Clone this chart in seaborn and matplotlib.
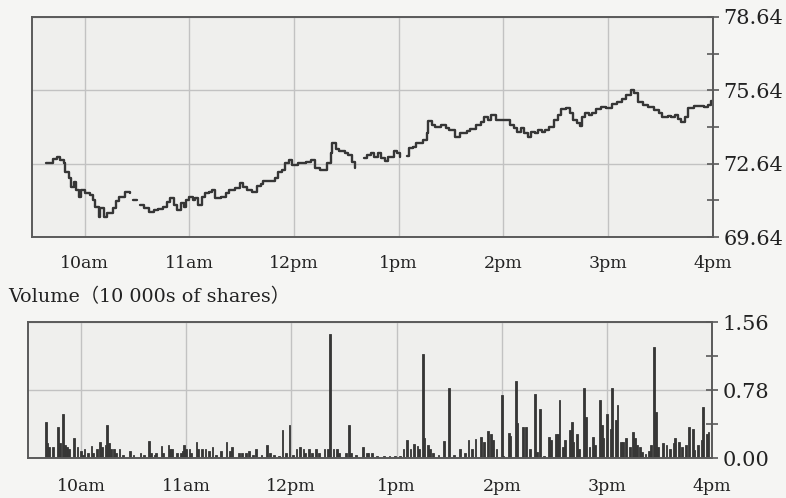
"""
Intraday price and volume chart (09:30 - 16:00), redrawn from a scanned page.
Output: out.png
"""

import numpy as np
import pandas as pd
import matplotlib
matplotlib.use("Agg")
import matplotlib.pyplot as plt
import matplotlib.ticker as mticker
import seaborn as sns

# ── Data (minutes after the 9:30 open; NaN = break in the trace) ─────────────

PRICE_MIN = [8, 12, 14, 16, 18, 19, 21, 22, 24, 25, 27, 28, 30, 33, 35, 36, 38,
             39, 41, 43, 46, 48, 50, 53, 56, 57, 58, 60, 61, 62, 64, 67, 70, 72,
             75, 77, 79, 81, 83, 85, 87, 88, 90, 92, 93, 95, 97, 99, 101, 103,
             105, 108, 111, 113, 116, 119, 121, 123, 126, 129, 131, 132, 136,
             139, 141, 143, 145, 147, 149, 152, 155, 157, 160, 162, 165, 167,
             169, 171, 172, 174, 176, 179, 181, 183, 185, 186, 190, 192, 194,
             196, 198, 200, 202, 204, 207, 209, 211, 212, 215, 216, 218, 220,
             224, 226, 227, 229, 231, 234, 237, 239, 242, 245, 249, 251, 254,
             257, 259, 261, 263, 266, 272, 274, 276, 278, 280, 282, 284, 286,
             288, 290, 292, 294, 296, 299, 301, 303, 306, 308, 310, 312, 314,
             315, 317, 319, 321, 323, 326, 329, 332, 335, 338, 340, 343, 345,
             347, 350, 353, 356, 359, 361, 364, 366, 368, 370, 372, 374, 376,
             379, 383, 385, 387, 389, 390]
PRICE = [72.65, 72.82, 72.90, 72.79, 72.65, 72.31, 72.04, 71.67, 71.90, 71.56,
         71.29, 71.56, 71.43, 71.36, 71.15, 70.88, 70.45, 70.81, 70.45, 70.61,
         70.81, 71.12, 71.29, 71.49, 71.43, np.nan, 71.15, 71.15, np.nan,
         70.95, 70.81, 70.67, 70.74, 70.77, 70.88, 71.08, 71.22, 70.95, 70.74,
         71.04, 70.88, 71.15, 71.29, 71.15, 71.22, 70.95, 71.29, 71.45, 71.49,
         71.56, 71.22, 71.29, 71.43, 71.56, 71.66, 71.86, 71.70, 71.56, 71.49,
         71.74, 71.81, 71.94, 71.94, 72.04, 72.31, 72.38, 72.65, 72.79, 72.59,
         72.65, 72.68, 72.72, 72.79, 72.45, 72.38, 72.38, 72.65, 73.06, 73.47,
         73.23, 73.17, 73.09, 72.99, 72.72, 72.45, np.nan, 72.86, 72.99,
         73.09, 72.93, 73.06, 72.86, 72.76, 72.93, 73.17, 73.06, 72.93,
         np.nan, 72.95, 73.27, 73.33, 73.47, 73.61, 73.88, 74.40, 74.22,
         74.13, 74.22, 74.09, 74.02, 73.74, 73.88, 73.99, 74.05, 74.22, 74.36,
         74.56, 74.43, 74.63, 74.43, 74.43, 74.22, 74.09, 73.95, 74.09, 73.88,
         73.74, 73.95, 73.88, 74.02, 73.95, 74.02, 74.15, 74.43, 74.63, 74.86,
         74.90, 74.70, 74.43, 74.29, 74.18, 74.56, 74.70, 74.63, 74.72, 74.86,
         74.97, 74.90, 75.08, 75.17, 75.27, 75.45, 75.65, 75.52, 75.17, 75.04,
         74.95, 74.84, 74.70, 74.56, 74.59, 74.56, 74.63, 74.45, 74.36, 74.56,
         74.90, 75.00, 75.00, 74.97, 75.04, 75.22, 75.22]

VOL_MIN = [10, 11, 12, 14, 17, 18, 20, 21, 22, 23, 26, 28, 30, 31, 32, 34, 36,
           37, 39, 41, 42, 44, 45, 46, 47, 49, 50, 52, 54, 58, 60, 64, 66, 69,
           70, 72, 73, 76, 77, 80, 81, 82, 85, 87, 88, 89, 90, 92, 93, 96, 97,
           99, 101, 103, 105, 107, 110, 113, 115, 116, 120, 122, 124, 126, 128,
           130, 133, 136, 138, 140, 143, 145, 147, 149, 151, 153, 155, 157,
           158, 160, 162, 164, 166, 169, 171, 172, 174, 176, 177, 181, 183,
           184, 187, 191, 193, 194, 196, 199, 203, 206, 209, 212, 214, 216,
           218, 220, 222, 223, 225, 226, 228, 229, 231, 234, 237, 240, 243,
           246, 249, 251, 253, 255, 258, 260, 262, 264, 265, 267, 270, 271,
           274, 275, 278, 279, 282, 284, 286, 289, 290, 292, 294, 297, 298,
           301, 302, 303, 305, 306, 309, 310, 311, 313, 314, 317, 318, 320,
           322, 323, 326, 327, 328, 330, 332, 333, 335, 336, 338, 339, 341,
           343, 345, 346, 347, 349, 350, 352, 354, 355, 357, 358, 359, 362,
           364, 366, 368, 369, 371, 373, 375, 377, 379, 380, 382, 384, 385,
           387, 388]
VOLUME = [0.42, 0.17, 0.13, 0.13, 0.36, 0.17, 0.51, 0.15, 0.13, 0.10, 0.23,
          0.13, 0.08, 0.04, 0.10, 0.06, 0.14, 0.06, 0.11, 0.19, 0.13, 0.15,
          0.38, 0.17, 0.10, 0.10, 0.06, 0.10, 0.04, 0.08, 0.04, 0.06, 0.04,
          0.20, 0.06, 0.04, 0.06, 0.14, 0.06, 0.15, 0.11, 0.10, 0.06, 0.06,
          0.08, 0.15, 0.10, 0.11, 0.06, 0.18, 0.10, 0.10, 0.10, 0.08, 0.13,
          0.04, 0.08, 0.19, 0.08, 0.13, 0.06, 0.06, 0.06, 0.08, 0.04, 0.10,
          0.04, 0.15, 0.06, 0.04, 0.03, 0.32, 0.06, 0.38, 0.04, 0.10, 0.13,
          0.10, 0.06, 0.10, 0.06, 0.10, 0.06, 0.10, 0.10, 1.43, 0.10, 0.11,
          0.06, 0.06, 0.38, 0.06, 0.04, 0.13, 0.06, 0.06, 0.06, 0.02, 0.02,
          0.02, 0.02, 0.03, 0.10, 0.21, 0.10, 0.16, 0.14, 0.10, 1.20, 0.23,
          0.15, 0.11, 0.06, 0.04, 0.20, 0.80, 0.04, 0.10, 0.06, 0.21, 0.10,
          0.22, 0.24, 0.19, 0.31, 0.28, 0.21, 0.11, 0.72, 0.03, 0.29, 0.26,
          0.88, 0.40, 0.36, 0.36, 0.10, 0.74, 0.07, 0.56, 0.03, 0.24, 0.21,
          0.28, 0.28, 0.67, 0.13, 0.21, 0.32, 0.42, 0.19, 0.28, 0.11, 0.80,
          0.47, 0.13, 0.24, 0.15, 0.67, 0.38, 0.23, 0.51, 0.34, 0.80, 0.44,
          0.61, 0.19, 0.19, 0.23, 0.13, 0.30, 0.23, 0.15, 0.13, 0.07, 0.05,
          0.08, 0.15, 1.27, 0.53, 0.13, 0.17, 0.15, 0.11, 0.17, 0.23, 0.19,
          0.13, 0.15, 0.36, 0.33, 0.09, 0.15, 0.21, 0.59, 0.28, 0.30]

HOUR_TICKS  = [30, 90, 150, 210, 270, 330, 390]
HOUR_LABELS = ["10am", "11am", "12pm", "1pm", "2pm", "3pm", "4pm"]

PRICE_MAJOR = [69.64, 72.64, 75.64, 78.64]
PRICE_MINOR = [71.14, 74.14, 77.14]
VOL_MAJOR   = [0.00, 0.78, 1.56]
VOL_MINOR   = [0.39, 1.17]

# ── Style ────────────────────────────────────────────────────────────────────

PAPER = "#f5f5f3"
PANEL = "#efefed"
INK   = "#363636"
GRID  = "#c2c2c2"

sns.set_theme(style="white")
plt.rcParams["font.family"] = ["DejaVu Serif", "Noto Sans CJK SC", "DejaVu Sans"]
plt.rcParams["axes.edgecolor"] = "#5a5a5a"
plt.rcParams["axes.linewidth"] = 1.4


def style_axis(ax, major, minor, ylim, xpad):
    ax.set_facecolor(PANEL)
    ax.set_xlim(0, 390)
    ax.set_ylim(*ylim)
    ax.set_xticks(HOUR_TICKS)
    ax.set_xticklabels(HOUR_LABELS, fontsize=12.5)
    ax.yaxis.tick_right()
    ax.yaxis.set_major_locator(mticker.FixedLocator(major))
    ax.yaxis.set_minor_locator(mticker.FixedLocator(minor))
    ax.yaxis.set_major_formatter(mticker.FormatStrFormatter("%.2f"))
    ax.tick_params(axis="y", which="both", direction="inout", length=9,
                   width=1.2, colors="#5a5a5a", labelcolor="#222222",
                   labelsize=15, pad=3)
    ax.tick_params(axis="x", direction="inout", length=8, width=1.2,
                   colors="#5a5a5a", labelcolor="#222222", pad=xpad)
    ax.grid(which="major", color=GRID, linewidth=1.0)
    ax.set_xlabel("")
    ax.set_ylabel("")
    for s in ax.spines.values():
        s.set_visible(True)


# ── Figure ───────────────────────────────────────────────────────────────────

fig = plt.figure(figsize=(7.86, 4.98), dpi=100, facecolor=PAPER)
ax_p = fig.add_axes([0.041, 0.524, 0.866, 0.442])
ax_v = fig.add_axes([0.036, 0.080, 0.870, 0.273])

price = pd.DataFrame({"minute": PRICE_MIN, "price": PRICE})
price["segment"] = price["price"].isna().cumsum()
price = price.dropna()
sns.lineplot(data=price, x="minute", y="price", units="segment",
             estimator=None, drawstyle="steps-post", color=INK,
             linewidth=1.7, ax=ax_p)
style_axis(ax_p, PRICE_MAJOR, PRICE_MINOR, (69.64, 78.64), xpad=9)

sns.histplot(x=VOL_MIN, weights=VOLUME, discrete=True, shrink=1.0,
             color=INK, alpha=1.0, edgecolor=INK, linewidth=0.6, ax=ax_v)
style_axis(ax_v, VOL_MAJOR, VOL_MINOR, (0, 1.56), xpad=10)

fig.text(0.010, 0.404, "Volume（10 000s of shares）", fontsize=13.8,
         color="#222222", va="center", ha="left")

plt.savefig("out.png", dpi=100, facecolor=PAPER)
plt.close()
